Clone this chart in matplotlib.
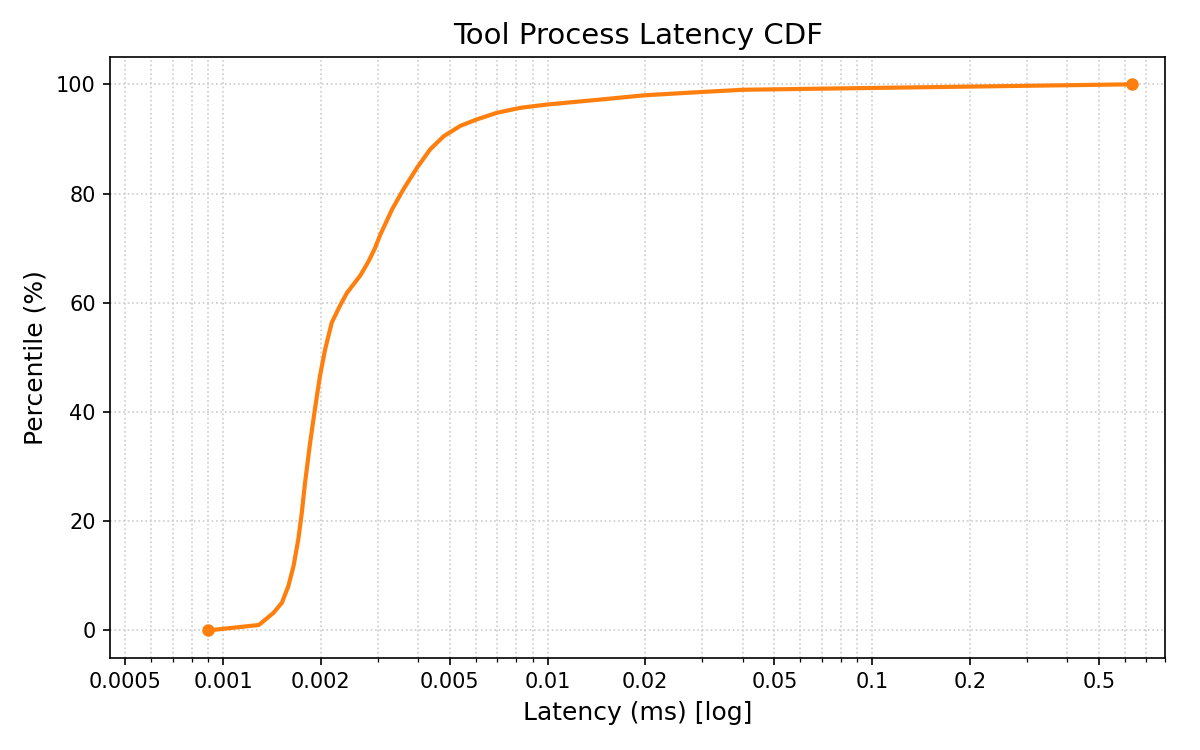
import matplotlib
matplotlib.use("Agg")
import matplotlib.pyplot as plt
from matplotlib.ticker import NullFormatter

percentiles = [0, 1, 3.2, 5.1, 8.1, 11.8, 16.7, 21.6, 27, 34.4, 40.5, 46.6,
               51.5, 56.4, 59.6, 61.8, 65.0, 67.6, 70.0, 72.4, 77.1, 80.8,
               84.7, 88.1, 90.5, 92.4, 93.6, 94.8, 95.7, 96.3, 97.2, 98.0,
               98.6, 99.0, 100]
latency_ms = [0.00090, 0.00129, 0.00143, 0.00152, 0.00159, 0.00165, 0.001707,
              0.00175, 0.00179, 0.001856, 0.00192, 0.00199, 0.002065,
              0.002165, 0.0023, 0.00241, 0.00265, 0.00281, 0.00294, 0.00305,
              0.00332, 0.0036, 0.00396, 0.00435, 0.00479, 0.00539, 0.00607,
              0.0070, 0.00826, 0.00998, 0.0145, 0.0200, 0.030, 0.040, 0.634]

xtick_vals = [0.0005, 0.001, 0.002, 0.005, 0.01, 0.02, 0.05, 0.1, 0.2, 0.5]
xtick_labels = ['0.0005', '0.001', '0.002', '0.005', '0.01', '0.02', '0.05',
                '0.1', '0.2', '0.5']

fig, ax = plt.subplots(figsize=(8, 5), dpi=150)
fig.subplots_adjust(left=0.092, right=0.971, top=0.924, bottom=0.123)

ax.plot(latency_ms, percentiles, color='#ff7f0e', lw=2, marker='o',
        markersize=5, markevery=[0, len(latency_ms) - 1])

ax.set_xscale('log')
ax.set_xlim(0.00045, 0.8)
ax.set_ylim(-5, 105)
ax.set_xticks(xtick_vals)
ax.set_xticklabels(xtick_labels)
ax.xaxis.set_minor_formatter(NullFormatter())

ax.grid(True, which='both', linestyle=':', color='#cccccc', linewidth=0.8)

ax.set_title('Tool Process Latency CDF', fontsize=14)
ax.set_xlabel('Latency (ms) [log]', fontsize=12)
ax.set_ylabel('Percentile (%)', fontsize=12)
ax.tick_params(labelsize=10)

plt.savefig('out.png')
